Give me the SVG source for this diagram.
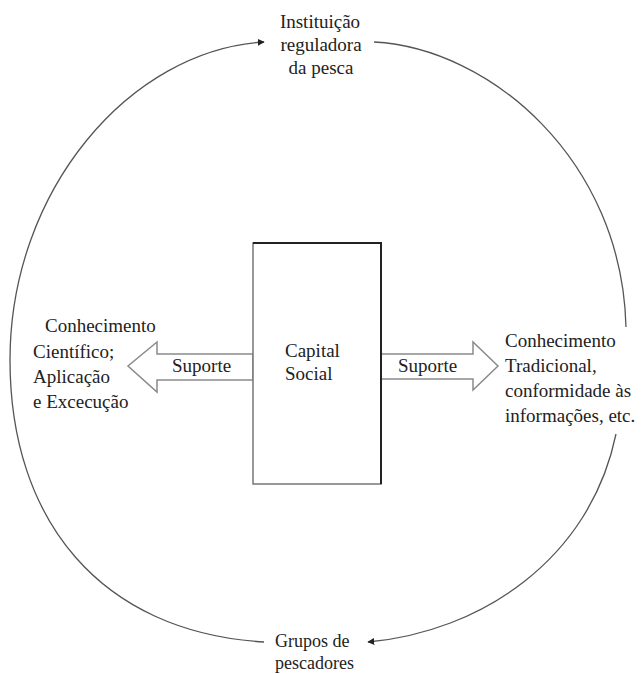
<svg xmlns="http://www.w3.org/2000/svg" width="642" height="674" viewBox="0 0 642 674">
<style>
text{font-family:"Liberation Serif","Times New Roman",serif;font-size:19px;fill:#222}
.small{font-size:18px}
.arc{fill:none;stroke:#555;stroke-width:1.3}
.block{fill:#fff;stroke:#8a8a8a;stroke-width:1.5}
</style>
<defs>
<marker id="ah" viewBox="0 0 10 10" refX="9" refY="5" markerWidth="7" markerHeight="7" markerUnits="userSpaceOnUse" orient="auto">
<path d="M0,0 L10,5 L0,10 Z" fill="#222"/>
</marker>
</defs>
<rect width="642" height="674" fill="#fff"/>
<g id="connectors">
<path class="arc" d="M264,642 C100,632 10,520 10,360 C10,190 130,50 264,42" marker-end="url(#ah)"/>
<path class="arc" d="M374,42 C490,48 622,160 626,327"/>
<path class="arc" d="M616,434 C590,560 480,632 368,642" marker-end="url(#ah)"/>
<g id="arrow-left">
<polygon class="block" points="253,354 157,354 157,342 128,366 157,392 157,380 253,380"/>
<text x="172" y="372">Suporte</text>
</g>
<g id="arrow-right">
<polygon class="block" points="381,354 473,354 473,342 498,366 473,390 473,379 381,379"/>
<text x="398" y="372">Suporte</text>
</g>
</g>
<g id="capital-social">
<rect x="253" y="243" width="128" height="241" fill="#fff" stroke="#777" stroke-width="1.5"/>
<polyline points="253,243 381,243 381,484" fill="none" stroke="#222" stroke-width="2"/>
<text x="285" y="357">Capital</text>
<text x="285" y="380">Social</text>
</g>
<g id="instituicao">
<text x="320" y="28" text-anchor="middle">Instituição</text>
<text x="321" y="51" text-anchor="middle">reguladora</text>
<text x="321" y="74" text-anchor="middle">da pesca</text>
</g>
<g id="conhecimento-cientifico">
<text x="45" y="332">Conhecimento</text>
<text x="33" y="358">Científico;</text>
<text x="33" y="383">Aplicação</text>
<text x="33" y="408">e Excecução</text>
</g>
<g id="conhecimento-tradicional">
<text x="505" y="347">Conhecimento</text>
<text x="505" y="372">Tradicional,</text>
<text x="505" y="397">conformidade às</text>
<text x="505" y="422">informações, etc.</text>
</g>
<g id="grupos-pescadores">
<text class="small" x="275" y="647">Grupos de</text>
<text class="small" x="275" y="669">pescadores</text>
</g>
</svg>
